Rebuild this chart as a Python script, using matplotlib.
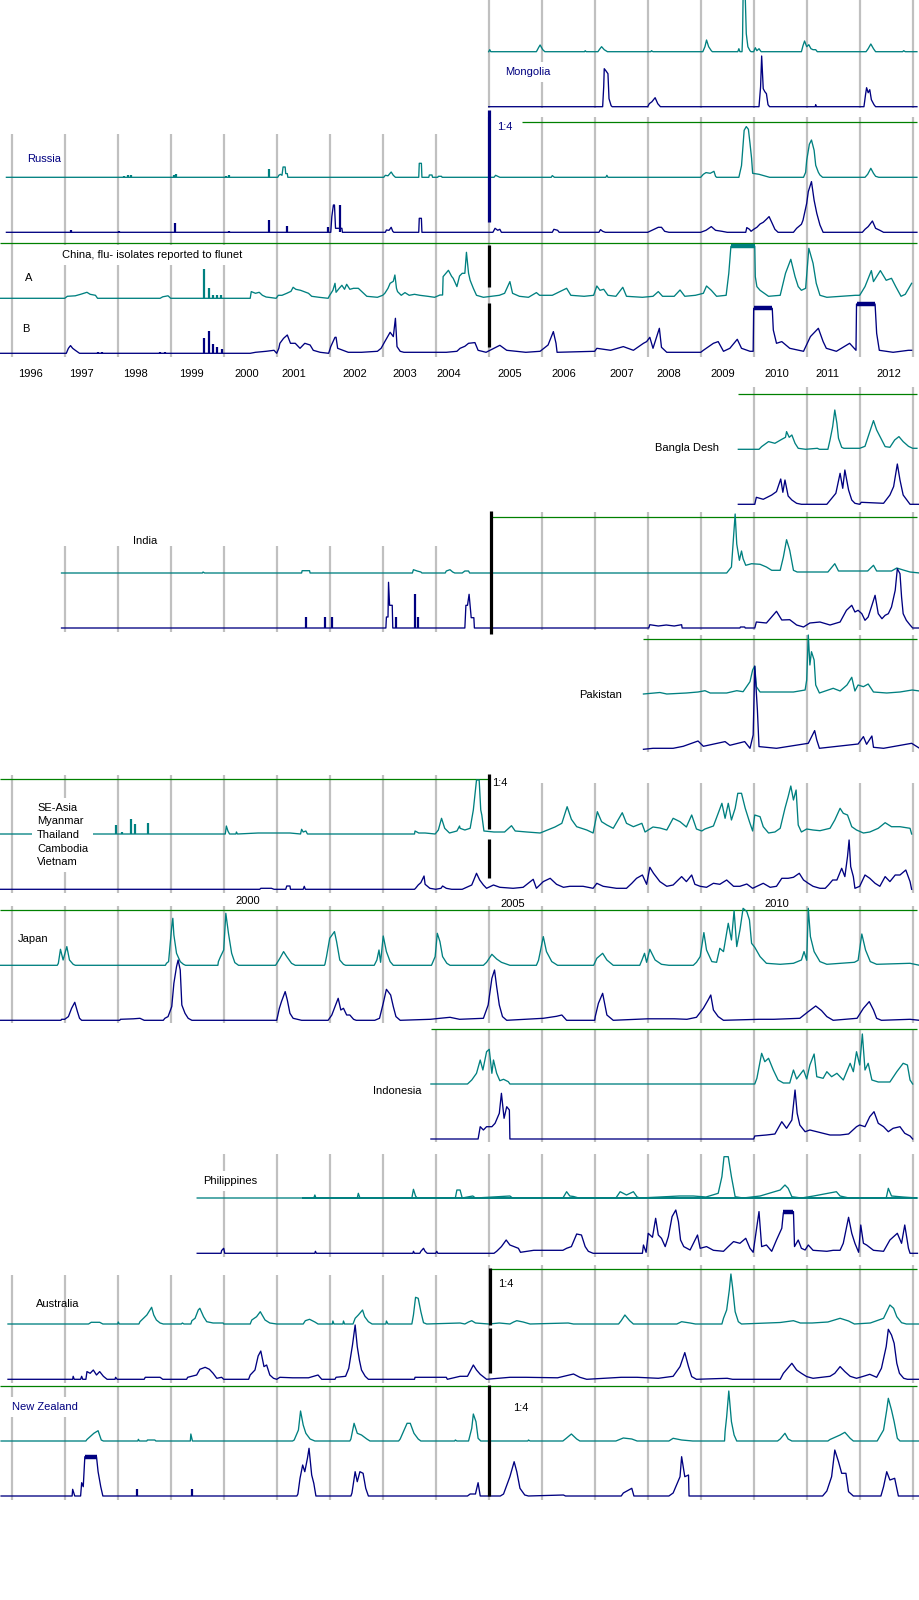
import matplotlib
matplotlib.use("Agg")
import matplotlib.pyplot as plt

# Weekly flu isolates, A (teal) and B (navy).
# Each series: (year, height) vertices; heights in picture units.

MONGOLIA_A = [(2005.0, 0), (2005.02, 2), (2005.04, 0), (2005.9, 0), (2005.94, 4), (2005.97, 6.7),
              (2006.02, 2), (2006.06, 0), (2006.81, 0), (2006.82, 1), (2006.84, 0), (2007.06, 0),
              (2007.1, 3), (2007.13, 5), (2007.18, 2), (2007.24, 0), (2008.06, 0), (2008.07, 1),
              (2008.1, 0), (2009.04, 0), (2009.08, 5), (2009.11, 11.7), (2009.15, 5), (2009.2, 1),
              (2009.22, 0), (2009.7, 0), (2009.72, 3), (2009.74, 0), (2009.78, 0), (2009.79, 15),
              (2009.8, 56), (2009.84, 56), (2009.86, 18), (2009.89, 5), (2009.93, 1), (2009.95, 0),
              (2010.0, 0), (2010.03, 4), (2010.06, 1), (2010.1, 3), (2010.14, 0), (2010.9, 0),
              (2010.93, 6), (2010.96, 10.7), (2011.0, 5), (2011.04, 7), (2011.08, 3), (2011.12, 2),
              (2011.17, 2), (2011.2, 0), (2012.12, 0), (2012.16, 3), (2012.21, 7.7), (2012.26, 3),
              (2012.3, 0), (2012.81, 0), (2012.83, 1), (2012.86, 0), (2013.08, 0)]
MONGOLIA_B = [(2005.0, 0), (2007.15, 0), (2007.17, 20), (2007.18, 38), (2007.21, 36), (2007.25, 33),
              (2007.27, 8), (2007.31, 1), (2007.33, 0), (2008.0, 0), (2008.03, 3), (2008.08, 5),
              (2008.14, 9), (2008.19, 3), (2008.24, 0), (2010.1, 0), (2010.13, 20), (2010.15, 50.7),
              (2010.18, 18), (2010.21, 15), (2010.24, 13), (2010.27, 2), (2010.3, 0), (2011.16, 0),
              (2011.17, 2), (2011.18, 0), (2012.08, 0), (2012.11, 12), (2012.13, 19), (2012.16, 14),
              (2012.19, 17), (2012.22, 7), (2012.27, 2), (2012.3, 0), (2013.08, 0)]

RUSSIA_A = [(1995.9, 0), (2001.02, 0), (2001.04, 2), (2001.07, 3), (2001.1, 2), (2001.12, 10.3),
            (2001.16, 10.3), (2001.17, 3.7), (2001.2, 3.7), (2001.21, 0), (2003.02, 0), (2003.05, 2),
            (2003.1, 1.5), (2003.16, 5.3), (2003.2, 2), (2003.24, 0), (2003.68, 0), (2003.69, 14),
            (2003.73, 14), (2003.74, 0), (2003.87, 0), (2003.88, 2.3), (2003.93, 2.3), (2003.94, 0),
            (2004.04, 0), (2004.05, 1), (2004.11, 1), (2004.12, 0), (2005.1, 0), (2005.13, 2),
            (2005.17, 1), (2005.21, 0), (2006.18, 0), (2006.2, 1.7), (2006.24, 0), (2007.21, 0),
            (2007.23, 2), (2007.25, 0), (2009.0, 0), (2009.05, 3), (2009.1, 4.7), (2009.18, 4),
            (2009.25, 6), (2009.28, 1), (2009.3, 0), (2009.72, 0), (2009.77, 11.7), (2009.82, 47),
            (2009.86, 50.7), (2009.9, 48), (2009.93, 34), (2009.96, 19), (2009.98, 4), (2010.1, 3),
            (2010.2, 1.5), (2010.3, 0), (2010.94, 0), (2010.98, 5), (2011.0, 17), (2011.05, 33),
            (2011.09, 37.3), (2011.14, 27), (2011.17, 12), (2011.22, 5), (2011.25, 2.3), (2011.3, 0),
            (2012.1, 0), (2012.15, 3), (2012.21, 9), (2012.26, 4), (2012.3, 1), (2012.36, 0),
            (2013.08, 0)]
RUSSIA_A_BARS = [(1998.12, 1.5), (1998.19, 2.3), (1998.25, 2.3), (1999.07, 2), (1999.1, 3.3),
                 (2000.05, 1.5), (2000.1, 2.3), (2000.85, 8.3)]
RUSSIA_B = [(1995.9, 0), (2002.02, 0), (2002.04, 15.7), (2002.07, 27.3), (2002.09, 27.3),
            (2002.1, 15.7), (2002.11, 4), (2002.23, 4), (2002.24, 0), (2003.05, 0), (2003.07, 2.3),
            (2003.12, 2), (2003.16, 5), (2003.19, 1), (2003.21, 0), (2003.68, 0), (2003.69, 14),
            (2003.73, 14), (2003.74, 0), (2005.08, 0), (2005.12, 4), (2005.17, 2), (2005.21, 3),
            (2005.24, 0), (2006.2, 0), (2006.23, 3), (2006.3, 2), (2006.33, 0), (2007.08, 0),
            (2007.11, 2.7), (2007.15, 1), (2007.2, 0), (2008.0, 0), (2008.08, 2), (2008.2, 5),
            (2008.26, 5), (2008.32, 1), (2008.4, 0), (2009.0, 0), (2009.1, 2), (2009.2, 5.7),
            (2009.28, 2), (2009.4, 1), (2009.5, 0), (2009.85, 0), (2009.87, 4.7), (2009.92, 3),
            (2009.95, 1), (2010.0, 3), (2010.06, 5), (2010.12, 8.3), (2010.18, 10), (2010.24, 13),
            (2010.29, 15.7), (2010.34, 10), (2010.4, 3), (2010.46, 0), (2010.75, 0), (2010.81, 4),
            (2010.9, 8), (2010.93, 12), (2011.0, 29), (2011.03, 40.7), (2011.09, 50.7),
            (2011.14, 32), (2011.19, 19), (2011.25, 7.3), (2011.31, 0), (2012.05, 0), (2012.1, 3),
            (2012.16, 5.7), (2012.24, 11.3), (2012.3, 4), (2012.38, 2), (2012.45, 0), (2013.08, 0)]
RUSSIA_B_BARS = [(1997.11, 2.3), (1998.03, 1), (1999.08, 9.7), (2000.1, 1.7), (2000.85, 12.3),
                 (2001.19, 6.3), (2001.96, 5.7), (2002.19, 27.3)]

CHINA_A = [(1995.78, 0), (1997.0, 0), (1997.05, 2), (1997.2, 2.5), (1997.3, 4), (1997.42, 6),
           (1997.48, 4), (1997.58, 3), (1997.62, 0), (1998.8, 0), (1998.85, 1.5), (1998.95, 2.5),
           (1999.0, 0), (2000.5, 0), (2000.52, 6.7), (2000.6, 5), (2000.67, 6), (2000.73, 3),
           (2000.8, 1.3), (2000.99, 0), (2001.03, 3), (2001.1, 3), (2001.19, 5), (2001.27, 7),
           (2001.31, 11), (2001.36, 9), (2001.45, 8), (2001.5, 7), (2001.6, 5), (2001.66, 2),
           (2001.8, 1), (2001.97, 0), (2002.0, 3), (2002.06, 8), (2002.1, 15), (2002.12, 6),
           (2002.18, 10), (2002.23, 13), (2002.28, 9), (2002.32, 14), (2002.38, 9), (2002.45, 10),
           (2002.54, 10), (2002.6, 7), (2002.66, 4), (2002.7, 2), (2002.9, 1), (2003.0, 3),
           (2003.04, 5), (2003.1, 10), (2003.14, 15), (2003.2, 17), (2003.23, 23.3), (2003.26, 10),
           (2003.28, 6.7), (2003.35, 3), (2003.42, 5.7), (2003.5, 3), (2003.6, 4), (2003.7, 3),
           (2003.85, 2), (2003.98, 1), (2004.08, 3.3), (2004.13, 3.3), (2004.14, 21.7),
           (2004.24, 28), (2004.3, 22), (2004.33, 20), (2004.4, 11.7), (2004.45, 22.3),
           (2004.5, 25), (2004.55, 25), (2004.58, 46), (2004.62, 25), (2004.65, 18), (2004.71, 10),
           (2004.77, 3), (2004.9, 1), (2005.2, 3), (2005.3, 5), (2005.4, 16.7), (2005.45, 5),
           (2005.58, 2), (2005.75, 1), (2005.9, 5.7), (2005.96, 3), (2006.2, 3), (2006.47, 10),
           (2006.55, 3), (2006.8, 2), (2006.98, 3), (2007.04, 12.3), (2007.1, 8), (2007.17, 9),
           (2007.25, 3), (2007.4, 2), (2007.53, 11), (2007.6, 2), (2007.9, 1), (2008.1, 2),
           (2008.2, 6.7), (2008.28, 2), (2008.5, 2), (2008.61, 8.3), (2008.7, 2), (2008.9, 3),
           (2009.05, 5), (2009.11, 12.3), (2009.2, 8), (2009.3, 2), (2009.48, 3), (2009.53, 25),
           (2009.57, 52), (2010.02, 52), (2010.03, 21.7), (2010.06, 11.7), (2010.12, 8),
           (2010.28, 2), (2010.5, 3), (2010.6, 25), (2010.7, 39), (2010.78, 21.7), (2010.84, 11.7),
           (2010.9, 8), (2010.98, 10), (2011.04, 50), (2011.12, 35), (2011.18, 15), (2011.25, 3),
           (2011.38, 1), (2011.92, 3), (2012.0, 3), (2012.1, 11.7), (2012.22, 27.7),
           (2012.26, 16.7), (2012.39, 27.7), (2012.5, 18), (2012.6, 20), (2012.68, 11.7),
           (2012.78, 2), (2012.86, 4), (2012.98, 15)]
CHINA_A_BARS = [(1999.63, 29.3), (1999.73, 10), (1999.8, 3), (1999.87, 3), (1999.95, 3)]
CHINA_A_BANDS = [(2009.57, 2010.02, 52)]
CHINA_B = [(1995.78, 0), (1997.03, 0), (1997.07, 5), (1997.11, 7.7), (1997.15, 5), (1997.2, 3),
           (1997.28, 0), (2000.5, 0), (2000.6, 1), (2000.8, 2), (2000.95, 3), (2001.0, 0),
           (2001.04, 5), (2001.06, 10), (2001.13, 15), (2001.2, 18.3), (2001.26, 10),
           (2001.35, 10), (2001.44, 5), (2001.53, 10), (2001.63, 8.3), (2001.69, 3), (2001.82, 1),
           (2001.98, 0), (2002.02, 6.7), (2002.1, 16), (2002.12, 16), (2002.15, 5), (2002.25, 3),
           (2002.35, 1), (2002.6, 1), (2002.9, 2), (2002.97, 5), (2003.04, 11.7), (2003.14, 21),
           (2003.2, 16.7), (2003.24, 35), (2003.27, 6.7), (2003.33, 2), (2003.4, 1), (2004.2, 1),
           (2004.4, 2), (2004.46, 5), (2004.55, 7), (2004.62, 10), (2004.74, 10.7), (2004.8, 3),
           (2004.95, 1), (2005.21, 8), (2005.34, 3), (2005.7, 1), (2005.97, 2), (2006.12, 8.3),
           (2006.22, 21.7), (2006.27, 10), (2006.29, 1), (2007.0, 2), (2007.04, 5), (2007.3, 3),
           (2007.54, 6.7), (2007.73, 3), (2007.92, 10), (2007.98, 11.7), (2008.04, 16),
           (2008.1, 5), (2008.22, 25), (2008.26, 6), (2008.36, 1), (2009.0, 1), (2009.05, 3),
           (2009.24, 10), (2009.33, 11.7), (2009.43, 2), (2009.55, 5), (2009.69, 14), (2009.77, 5),
           (2009.93, 2), (2009.99, 2), (2010.0, 45), (2010.35, 45), (2010.37, 23.3), (2010.43, 10),
           (2010.53, 11.7), (2010.68, 5), (2010.94, 2), (2011.07, 16.7), (2011.22, 25),
           (2011.31, 11.7), (2011.37, 5), (2011.56, 2), (2011.81, 10), (2011.93, 3),
           (2011.94, 49.3), (2012.29, 49.3), (2012.32, 20), (2012.37, 3), (2012.63, 1),
           (2012.92, 3), (2012.98, 3)]
CHINA_B_BARS = [(1997.62, 1), (1997.7, 1.5), (1998.8, 1), (1998.9, 1), (1999.63, 15),
                (1999.73, 22.3), (1999.8, 9.3), (1999.88, 6), (1999.96, 4)]
CHINA_B_BANDS = [(2010.0, 2010.35, 45), (2011.94, 2012.29, 49.3)]

BANGLA_A = [(2009.71, 0), (2010.1, 0), (2010.15, 2.7), (2010.28, 7.7), (2010.4, 6), (2010.53, 10),
            (2010.6, 12), (2010.62, 17.7), (2010.67, 12), (2010.72, 14.3), (2010.78, 6),
            (2010.84, 1), (2010.98, 0), (2011.2, 1), (2011.24, 0), (2011.4, 0), (2011.44, 9.3),
            (2011.49, 22.7), (2011.53, 39.3), (2011.57, 26), (2011.6, 11), (2011.66, 2), (2011.7, 1),
            (2012.0, 1), (2012.1, 3), (2012.16, 12.7), (2012.26, 28.7), (2012.32, 19.3),
            (2012.4, 11), (2012.48, 2.7), (2012.57, 2), (2012.66, 9.3), (2012.74, 12.7),
            (2012.82, 7.7), (2012.92, 3), (2013.0, 1), (2013.08, 1)]
BANGLA_B = [(2009.71, 0), (2010.02, 0), (2010.05, 7), (2010.18, 5), (2010.34, 9.3), (2010.43, 12.7),
            (2010.51, 25.3), (2010.55, 12), (2010.59, 24.3), (2010.65, 8.3), (2010.72, 4.3),
            (2010.81, 1), (2010.9, 0), (2011.38, 0), (2011.55, 11), (2011.63, 31), (2011.68, 16),
            (2011.72, 34.3), (2011.79, 14.3), (2011.85, 4.3), (2011.91, 1), (2012.0, 0),
            (2012.03, 2), (2012.45, 1), (2012.57, 9.3), (2012.64, 17.7), (2012.71, 40.3),
            (2012.76, 24.3), (2012.82, 9.3), (2012.88, 5), (2012.95, 0), (2013.12, 0)]

INDIA_A = [(1996.94, 0), (1999.6, 0), (1999.61, 1), (1999.64, 0), (2001.47, 0), (2001.48, 2.3),
           (2001.62, 2.3), (2001.63, 0), (2003.56, 0), (2003.58, 3.3), (2003.65, 2), (2003.72, 1),
           (2003.74, 0), (2004.18, 0), (2004.2, 2), (2004.27, 3.3), (2004.32, 1), (2004.36, 0),
           (2004.5, 0), (2004.55, 2), (2004.62, 2), (2004.64, 0), (2009.49, 0), (2009.58, 6),
           (2009.65, 59), (2009.68, 29), (2009.73, 12.7), (2009.77, 22), (2009.8, 14.3),
           (2009.85, 7.7), (2009.96, 9.3), (2010.12, 8.7), (2010.24, 6), (2010.34, 2.7),
           (2010.5, 2.7), (2010.56, 16), (2010.62, 33.3), (2010.68, 22.7), (2010.75, 2.7),
           (2010.82, 1), (2011.4, 1), (2011.53, 9.3), (2011.6, 2), (2012.15, 2), (2012.26, 7.7),
           (2012.32, 2), (2012.6, 2), (2012.7, 5), (2012.82, 3), (2012.95, 1), (2013.13, 0)]
INDIA_B = [(1996.94, 0), (2003.06, 0), (2003.07, 11), (2003.1, 11), (2003.11, 45.7),
           (2003.13, 22.7), (2003.18, 22.7), (2003.19, 0), (2004.55, 0), (2004.57, 22.7),
           (2004.6, 22.7), (2004.63, 33.7), (2004.67, 10.3), (2004.72, 10.3), (2004.73, 0),
           (2008.02, 0), (2008.04, 3.3), (2008.2, 2), (2008.35, 3), (2008.5, 2), (2008.64, 3.3),
           (2008.65, 0), (2009.74, 0), (2009.75, 1), (2009.83, 1), (2009.84, 0), (2010.02, 0),
           (2010.05, 6), (2010.24, 5), (2010.43, 16.7), (2010.53, 8), (2010.68, 8.3), (2010.81, 3),
           (2010.94, 1), (2011.06, 5), (2011.25, 6), (2011.44, 3), (2011.63, 6), (2011.75, 17.7),
           (2011.85, 22.7), (2011.91, 16), (2011.97, 17.7), (2012.04, 14.3), (2012.1, 7.7),
           (2012.16, 11), (2012.24, 24.3), (2012.29, 32.7), (2012.35, 14.3), (2012.42, 9.3),
           (2012.48, 12.7), (2012.54, 14.3), (2012.6, 21), (2012.67, 37.7), (2012.71, 59.3),
           (2012.76, 54.3), (2012.79, 31), (2012.82, 14.3), (2012.88, 7.7), (2012.95, 3),
           (2013.0, 0), (2013.13, 0)]
INDIA_B_BARS = [(2001.55, 11), (2001.92, 11), (2002.04, 11), (2003.26, 11), (2003.6, 34.3),
                (2003.67, 11)]

PAKISTAN_A = [(2007.92, 0), (2008.23, 1.5), (2008.36, 0), (2008.73, 1), (2008.95, 2), (2009.08, 3.3),
              (2009.18, 1), (2009.49, 1), (2009.68, 3.3), (2009.8, 2.3), (2009.93, 12.3),
              (2009.98, 24), (2010.02, 28), (2010.05, 7.3), (2010.12, 2), (2010.75, 2),
              (2010.97, 4), (2011.0, 14), (2011.03, 59), (2011.06, 29), (2011.09, 42.3),
              (2011.14, 34), (2011.17, 9), (2011.24, 1), (2011.5, 5.7), (2011.63, 3), (2011.76, 9),
              (2011.85, 16.7), (2011.91, 3), (2011.97, 9), (2012.07, 7.3), (2012.16, 10),
              (2012.26, 2), (2012.51, 1), (2012.76, 2), (2012.99, 4), (2013.13, 3)]
PAKISTAN_B = [(2007.92, 0), (2008.1, 1), (2008.48, 1), (2008.67, 3), (2008.95, 8.3), (2009.05, 3),
              (2009.46, 7.7), (2009.55, 4), (2009.83, 7.7), (2009.93, 1), (2009.99, 14.3),
              (2010.02, 83), (2010.07, 39), (2010.1, 2.7), (2010.43, 1), (2011.03, 6),
              (2011.15, 18.7), (2011.19, 9.3), (2011.24, 1), (2011.97, 5.3), (2012.07, 12.7),
              (2012.13, 5), (2012.23, 13.3), (2012.26, 2), (2012.45, 1), (2012.98, 6), (2013.13, 1)]

SEASIA_A = [(1995.78, 0), (2000.03, 0), (2000.05, 8), (2000.08, 3), (2000.11, 0), (2000.23, 0),
            (2000.24, 2), (2000.26, 0), (2000.65, 1), (2001.06, 1), (2001.25, 1), (2001.45, 0),
            (2001.47, 4.7), (2001.5, 2), (2001.55, 3), (2001.58, 0), (2003.6, 0), (2003.61, 3),
            (2003.68, 1), (2003.8, 1), (2003.99, 0), (2004.05, 4), (2004.11, 15.7), (2004.17, 5.7),
            (2004.26, 1), (2004.4, 3), (2004.45, 8), (2004.46, 5.7), (2004.55, 4), (2004.65, 5.7),
            (2004.71, 24), (2004.77, 54), (2004.82, 54), (2004.85, 24), (2004.87, 19), (2004.91, 3),
            (2005.1, 2), (2005.3, 2), (2005.43, 8.3), (2005.5, 3), (2005.72, 2), (2005.97, 1),
            (2006.25, 7), (2006.38, 10.7), (2006.48, 27.3), (2006.56, 14.7), (2006.66, 7.3),
            (2006.85, 4), (2006.97, 1), (2007.05, 22.3), (2007.13, 12.3), (2007.23, 9),
            (2007.35, 5.7), (2007.52, 21.3), (2007.6, 10.7), (2007.73, 7.3), (2007.89, 10.7),
            (2007.95, 2), (2008.1, 7), (2008.23, 6), (2008.36, 4), (2008.48, 15.7), (2008.61, 12.3),
            (2008.73, 7), (2008.83, 19), (2008.92, 5), (2009.02, 3), (2009.08, 5), (2009.24, 8),
            (2009.33, 20.7), (2009.4, 30.7), (2009.46, 15.7), (2009.52, 30.7), (2009.58, 14),
            (2009.65, 25.7), (2009.7, 40.7), (2009.77, 40.7), (2009.84, 25.7), (2009.92, 12.3),
            (2009.98, 3), (2010.02, 19), (2010.12, 17.3), (2010.18, 7.3), (2010.28, 1), (2010.4, 2),
            (2010.5, 5.7), (2010.59, 25.7), (2010.65, 37.3), (2010.7, 48), (2010.75, 34),
            (2010.8, 44), (2010.84, 9), (2010.9, 2), (2011.0, 5), (2011.12, 4), (2011.25, 3.3),
            (2011.44, 5.7), (2011.53, 14), (2011.63, 25.7), (2011.69, 20.7), (2011.77, 19),
            (2011.85, 7.3), (2011.94, 4), (2012.07, 1), (2012.19, 2), (2012.35, 5.7),
            (2012.48, 11.3), (2012.6, 7.3), (2012.76, 7.3), (2012.95, 5.7), (2012.98, 0)]
SEASIA_A_BARS = [(1997.97, 9), (1998.08, 2), (1998.25, 14.7), (1998.33, 10), (1998.57, 10.7)]
SEASIA_B = [(1995.78, 0), (2000.68, 0), (2000.7, 1), (2000.9, 1), (2000.95, 0), (2001.17, 0),
            (2001.19, 3.3), (2001.25, 3.3), (2001.26, 0), (2001.5, 0), (2001.52, 3), (2001.54, 0),
            (2003.6, 0), (2003.62, 1), (2003.67, 4.3), (2003.72, 6.7), (2003.78, 13.3), (2003.8, 5),
            (2003.89, 1), (2004.0, 0), (2004.1, 1), (2004.13, 3.3), (2004.2, 1), (2004.3, 0),
            (2004.5, 0), (2004.68, 4.3), (2004.77, 16), (2004.83, 9.3), (2004.9, 4.3), (2004.96, 1),
            (2005.09, 4.3), (2005.21, 2), (2005.46, 1), (2005.65, 2), (2005.84, 10), (2005.9, 1),
            (2006.03, 7.7), (2006.16, 11), (2006.28, 5), (2006.41, 2), (2006.53, 3), (2006.78, 3),
            (2006.97, 1), (2007.04, 6), (2007.16, 3), (2007.41, 1), (2007.6, 1), (2007.7, 6),
            (2007.79, 11), (2007.9, 14.3), (2007.98, 5), (2008.04, 22), (2008.11, 16),
            (2008.23, 7.7), (2008.36, 3), (2008.48, 4.3), (2008.64, 12.7), (2008.73, 7.7),
            (2008.83, 14.3), (2008.89, 5), (2008.99, 3), (2009.11, 2), (2009.24, 6), (2009.36, 5),
            (2009.49, 9.3), (2009.62, 3), (2009.74, 3), (2009.87, 5.3), (2009.98, 1), (2010.06, 3),
            (2010.18, 6), (2010.31, 2), (2010.43, 3), (2010.53, 11), (2010.65, 11), (2010.75, 12),
            (2010.86, 16), (2010.94, 9.3), (2011.03, 6), (2011.12, 3), (2011.25, 1), (2011.35, 1),
            (2011.41, 4.3), (2011.49, 9.3), (2011.57, 9.3), (2011.66, 21), (2011.72, 12.7),
            (2011.77, 32.7), (2011.8, 49.3), (2011.83, 22.7), (2011.88, 12.7), (2011.91, 1),
            (2012.0, 3), (2012.1, 14.3), (2012.19, 11), (2012.29, 6), (2012.38, 3), (2012.48, 12.7),
            (2012.57, 7.7), (2012.67, 14.3), (2012.76, 14.3), (2012.87, 19.3), (2012.95, 7.7),
            (2012.98, 0)]

JAPAN_A = [(1995.78, 0), (1996.86, 0), (1996.88, 2), (1996.92, 16), (1996.97, 5.3), (1997.04, 18.7),
           (1997.09, 5.3), (1997.16, 1), (1997.2, 0), (1998.9, 0), (1998.92, 2), (1998.96, 3.7),
           (1999.02, 38.7), (1999.04, 47), (1999.06, 30.3), (1999.11, 12), (1999.18, 3.7),
           (1999.24, 1), (1999.28, 0), (1999.89, 0), (1999.9, 3.7), (1999.94, 8.7), (2000.0, 15.3),
           (2000.04, 52), (2000.09, 32), (2000.15, 12), (2000.21, 2.7), (2000.28, 0), (2000.98, 0),
           (2001.06, 7), (2001.13, 13.7), (2001.19, 8.7), (2001.28, 2), (2001.35, 0), (2001.9, 0),
           (2001.91, 1), (2001.94, 8.7), (2002.0, 27), (2002.09, 33.7), (2002.13, 23.7),
           (2002.19, 5.3), (2002.26, 1), (2002.3, 0), (2002.84, 0), (2002.89, 5.3), (2002.93, 15.3),
           (2002.96, 3), (2003.01, 29.3), (2003.07, 13.7), (2003.14, 3.7), (2003.2, 0),
           (2003.92, 0), (2003.99, 8.7), (2004.03, 32), (2004.08, 23.7), (2004.13, 8.7),
           (2004.21, 2), (2004.27, 0), (2004.9, 0), (2004.96, 3), (2005.06, 11), (2005.15, 6.3),
           (2005.24, 3), (2005.4, 0), (2005.9, 0), (2005.94, 5), (2006.03, 28.7), (2006.09, 13.7),
           (2006.19, 3.7), (2006.3, 0), (2006.98, 0), (2007.04, 7), (2007.15, 12), (2007.23, 5.3),
           (2007.35, 0), (2007.85, 0), (2007.89, 5), (2007.94, 12), (2007.98, 3), (2008.04, 16),
           (2008.14, 5.3), (2008.26, 1), (2008.4, 0), (2008.86, 0), (2008.92, 3), (2008.99, 8.7),
           (2009.06, 32.7), (2009.11, 15.3), (2009.21, 3.7), (2009.3, 3), (2009.36, 17),
           (2009.43, 13.7), (2009.52, 42), (2009.58, 25.3), (2009.63, 54.7), (2009.68, 18.7),
           (2009.74, 35.3), (2009.8, 57), (2009.87, 53.7), (2009.92, 45.3), (2009.96, 22),
           (2010.02, 18), (2010.12, 8.7), (2010.24, 2), (2010.5, 1), (2010.75, 2), (2010.9, 5.3),
           (2010.95, 13.7), (2011.0, 5), (2011.03, 57), (2011.07, 28.7), (2011.14, 13.7),
           (2011.25, 3.7), (2011.38, 1), (2011.9, 3), (2011.97, 5), (2012.04, 31.3),
           (2012.11, 15.3), (2012.2, 3.7), (2012.32, 1), (2012.95, 2), (2013.13, 0)]
JAPAN_B = [(1995.78, 0), (1996.93, 0), (1996.94, 1), (1997.0, 1), (1997.07, 3.7), (1997.13, 12),
           (1997.19, 18), (1997.24, 8.7), (1997.28, 2), (1997.32, 0), (1998.04, 0), (1998.05, 1),
           (1998.3, 1.5), (1998.42, 2), (1998.5, 0), (1998.86, 0), (1998.89, 2), (1998.95, 3.7),
           (1999.02, 13.7), (1999.06, 37), (1999.11, 53.7), (1999.14, 60.3), (1999.18, 50.3),
           (1999.21, 15.3), (1999.27, 7), (1999.33, 2), (1999.4, 0), (2001.0, 0), (2001.05, 12),
           (2001.09, 18.7), (2001.16, 28.7), (2001.2, 20.3), (2001.25, 7), (2001.31, 2),
           (2001.47, 0), (2001.97, 0), (2002.04, 5.3), (2002.1, 13.7), (2002.16, 22),
           (2002.21, 10.3), (2002.26, 12), (2002.32, 5.3), (2002.38, 5.3), (2002.45, 1),
           (2002.5, 0), (2002.85, 0), (2002.94, 2), (2003.01, 17), (2003.07, 31), (2003.15, 25.3),
           (2003.2, 13.7), (2003.25, 3.7), (2003.33, 0), (2003.9, 1), (2004.08, 2), (2004.27, 3),
           (2004.45, 1), (2004.9, 2), (2004.99, 15.3), (2005.06, 42), (2005.11, 50.3),
           (2005.15, 33.7), (2005.2, 15.3), (2005.26, 3.7), (2005.34, 0), (2006.03, 2),
           (2006.28, 4), (2006.38, 5.3), (2006.47, 0), (2007.0, 0), (2007.01, 3.7), (2007.07, 17),
           (2007.15, 27), (2007.23, 5.3), (2007.35, 0), (2008.0, 1.5), (2008.5, 1.5), (2008.74, 1),
           (2008.92, 3), (2009.05, 12), (2009.14, 20.3), (2009.19, 25.3), (2009.24, 10.3),
           (2009.33, 3.7), (2009.43, 0), (2010.1, 1), (2010.38, 1), (2010.87, 2), (2011.03, 8.7),
           (2011.17, 14.3), (2011.28, 9.7), (2011.38, 3.7), (2011.5, 0), (2011.95, 2),
           (2012.07, 12), (2012.18, 18.7), (2012.26, 10.3), (2012.32, 2), (2012.41, 0),
           (2012.95, 1), (2013.13, 0)]

INDONESIA_A = [(2003.91, 0), (2004.6, 0), (2004.68, 4), (2004.77, 10.7), (2004.84, 24), (2004.89, 14),
               (2004.96, 32.3), (2005.01, 34.7), (2005.06, 10.7), (2005.09, 24), (2005.15, 10.7),
               (2005.21, 3.3), (2005.28, 4.7), (2005.37, 2.3), (2005.4, 0), (2010.02, 0),
               (2010.06, 5.7), (2010.15, 30.7), (2010.21, 22.3), (2010.28, 25.7), (2010.37, 14),
               (2010.46, 4), (2010.56, 1), (2010.68, 1), (2010.75, 14), (2010.81, 5), (2010.94, 14),
               (2011.0, 5), (2011.06, 19), (2011.14, 30), (2011.19, 7.3), (2011.31, 5.7),
               (2011.38, 12.3), (2011.47, 7.3), (2011.57, 10.7), (2011.69, 4), (2011.82, 20.7),
               (2011.88, 12.3), (2011.94, 32.3), (2012.0, 19), (2012.05, 50), (2012.1, 14),
               (2012.16, 20.7), (2012.23, 4), (2012.35, 2), (2012.57, 2), (2012.7, 12.3),
               (2012.82, 20.7), (2012.9, 19), (2012.95, 4), (2013.0, 0)]
INDONESIA_B = [(2003.91, 0), (2004.8, 0), (2004.84, 12.3), (2004.9, 9), (2004.96, 12.3),
               (2005.06, 12.3), (2005.12, 15.7), (2005.2, 25.7), (2005.24, 45.7), (2005.29, 20.7),
               (2005.34, 32.3), (2005.39, 29), (2005.4, 0), (2010.0, 0), (2010.02, 3), (2010.24, 4),
               (2010.4, 5), (2010.53, 17.3), (2010.62, 10.7), (2010.72, 19), (2010.78, 49),
               (2010.82, 25.7), (2010.87, 14), (2010.97, 7.3), (2011.06, 9), (2011.19, 7.3),
               (2011.31, 5.7), (2011.44, 4), (2011.63, 4), (2011.79, 5), (2011.94, 12.3),
               (2012.0, 14), (2012.1, 12.3), (2012.19, 22.3), (2012.27, 27.3), (2012.35, 15.7),
               (2012.45, 12.3), (2012.54, 7.3), (2012.63, 10.7), (2012.76, 12.3), (2012.85, 5.7),
               (2012.95, 3), (2013.0, 0)]

PHILIPPINES_A = [(1999.5, 0), (2001.7, 0), (2001.72, 3), (2001.74, 0), (2002.52, 0), (2002.54, 4.7),
                 (2002.57, 0), (2003.55, 0), (2003.58, 8.7), (2003.62, 2), (2003.65, 0),
                 (2004.37, 0), (2004.4, 8), (2004.46, 8), (2004.49, 2), (2004.5, 0), (2004.7, 2),
                 (2004.75, 0), (2005.4, 2), (2005.45, 0), (2006.4, 0), (2006.47, 6.3),
                 (2006.53, 2), (2006.6, 1.5), (2006.7, 0), (2007.4, 0), (2007.48, 6.3), (2007.6, 3),
                 (2007.73, 6.3), (2007.8, 1), (2007.85, 0), (2008.6, 2), (2008.86, 2), (2009.1, 1),
                 (2009.33, 4.7), (2009.4, 21.3), (2009.44, 41.3), (2009.52, 41.3), (2009.58, 21.3),
                 (2009.65, 1.3), (2009.8, 0), (2010.12, 2), (2010.5, 8), (2010.59, 13),
                 (2010.65, 9.7), (2010.72, 1.3), (2010.9, 0), (2011.13, 2), (2011.56, 6.3),
                 (2011.63, 2), (2011.8, 0), (2012.5, 0), (2012.54, 9.7), (2012.6, 2), (2012.82, 1),
                 (2013.09, 0)]
PHILIPPINES_A_BANDS = [(2001.47, 2013.09, 0.5)]
PHILIPPINES_B = [(1999.5, 0), (1999.95, 0), (1999.96, 2.7), (2000.0, 5), (2000.02, 0), (2001.72, 0),
                 (2001.73, 2), (2001.75, 0), (2003.57, 0), (2003.58, 2), (2003.6, 0), (2003.7, 0),
                 (2003.72, 2), (2003.77, 5), (2003.8, 2), (2003.84, 0), (2004.0, 0), (2004.02, 2),
                 (2004.04, 0), (2005.1, 0), (2005.15, 2), (2005.24, 6.7), (2005.33, 13.3),
                 (2005.4, 8.3), (2005.56, 5), (2005.6, 1), (2005.85, 3), (2006.4, 3), (2006.47, 5),
                 (2006.56, 6.7), (2006.66, 19.3), (2006.75, 18.3), (2006.82, 6.7), (2006.88, 2),
                 (2006.97, 0), (2007.9, 0), (2007.92, 8.3), (2007.97, 1), (2008.01, 20),
                 (2008.09, 16), (2008.15, 35), (2008.2, 18.3), (2008.26, 15), (2008.33, 6.7),
                 (2008.39, 16.7), (2008.46, 36.7), (2008.53, 43.3), (2008.58, 31.7), (2008.62, 13.3),
                 (2008.68, 6.7), (2008.8, 3.3), (2008.94, 18.3), (2008.99, 5), (2009.11, 6.7),
                 (2009.24, 3), (2009.43, 2), (2009.52, 6.7), (2009.62, 11.7), (2009.74, 10),
                 (2009.85, 15), (2009.93, 5), (2009.99, 1), (2010.1, 41.7), (2010.15, 6.7),
                 (2010.24, 8.3), (2010.34, 2), (2010.43, 13.3), (2010.53, 25), (2010.56, 40.7),
                 (2010.75, 41.7), (2010.77, 6.7), (2010.84, 13.3), (2010.9, 5), (2010.97, 3.3),
                 (2011.03, 8.3), (2011.12, 3), (2011.38, 2), (2011.5, 3), (2011.63, 3),
                 (2011.69, 10), (2011.79, 36), (2011.85, 20), (2011.91, 10), (2011.98, 1),
                 (2012.02, 28.3), (2012.07, 10), (2012.13, 8.3), (2012.26, 3), (2012.45, 2),
                 (2012.57, 13.3), (2012.71, 20), (2012.79, 10), (2012.85, 28.3), (2012.92, 5),
                 (2012.95, 0), (2013.09, 0)]
PHILIPPINES_B_BANDS = [(2010.56, 2010.75, 41.7)]

AUSTRALIA_A = [(1995.93, 0), (1997.45, 0), (1997.5, 1.7), (1997.66, 1.7), (1997.72, 0), (1998.0, 0),
               (1998.01, 2), (1998.03, 0), (1998.4, 0), (1998.42, 2.3), (1998.55, 9),
               (1998.64, 16.7), (1998.68, 9), (1998.73, 4), (1998.8, 1), (1998.86, 0), (1999.2, 0),
               (1999.22, 1), (1999.25, 0), (1999.38, 0), (1999.4, 3.3), (1999.46, 5.7),
               (1999.52, 14), (1999.55, 15.7), (1999.62, 7.3), (1999.68, 2.3), (1999.8, 1),
               (1999.99, 1), (2000.0, 0), (2000.5, 0), (2000.53, 4), (2000.62, 7.3), (2000.69, 12.3),
               (2000.78, 4), (2000.87, 1), (2001.0, 0), (2001.5, 0), (2001.54, 3.3), (2001.62, 4.7),
               (2001.72, 2), (2001.78, 0), (2002.05, 0), (2002.06, 3), (2002.08, 0), (2002.25, 0),
               (2002.26, 3), (2002.28, 0), (2002.44, 0), (2002.48, 5.7), (2002.54, 9), (2002.62, 14),
               (2002.66, 7.3), (2002.73, 2.3), (2002.8, 0), (2003.06, 0), (2003.07, 3), (2003.1, 0),
               (2003.55, 0), (2003.58, 9), (2003.62, 26.7), (2003.67, 25.7), (2003.72, 12.3),
               (2003.77, 1.3), (2003.83, 0), (2004.46, 1), (2004.55, 0), (2004.62, 2),
               (2004.68, 3.3), (2004.75, 1), (2005.0, 0), (2005.2, 1), (2005.4, 0), (2005.47, 2),
               (2005.53, 3.3), (2005.65, 2), (2005.78, 0), (2006.5, 1), (2006.6, 0), (2007.45, 0),
               (2007.5, 3.3), (2007.57, 9), (2007.66, 3.3), (2007.73, 0), (2008.55, 0),
               (2008.64, 2.3), (2008.8, 1), (2008.9, 0), (2009.4, 0), (2009.43, 5.7), (2009.49, 14),
               (2009.54, 34), (2009.57, 50), (2009.6, 37.3), (2009.65, 12.3), (2009.71, 2.3),
               (2009.77, 0), (2010.5, 1.5), (2010.75, 3.3), (2010.88, 1), (2011.1, 1), (2011.4, 2),
               (2011.63, 5.7), (2011.79, 3), (2011.9, 0), (2012.2, 1), (2012.45, 5.7), (2012.57, 19),
               (2012.64, 15.7), (2012.7, 7.3), (2012.79, 1.3), (2012.88, 0), (2013.13, 0)]
AUSTRALIA_B = [(1995.93, 0), (1997.15, 0), (1997.16, 3), (1997.18, 0), (1997.3, 0), (1997.32, 3),
               (1997.34, 0), (1997.4, 0), (1997.42, 7.7), (1997.48, 6), (1997.54, 9.3), (1997.6, 4.3),
               (1997.66, 7.7), (1997.73, 3), (1997.8, 0), (1997.95, 0), (1997.96, 2), (1997.99, 0),
               (1998.5, 0), (1998.52, 2), (1998.8, 2), (1998.85, 0), (1999.3, 0), (1999.32, 2),
               (1999.49, 4.3), (1999.55, 10), (1999.65, 12), (1999.73, 10), (1999.8, 6),
               (1999.87, 1), (1999.96, 2), (2000.0, 0), (2000.47, 0), (2000.5, 4.3), (2000.59, 9.3),
               (2000.65, 23.3), (2000.7, 28.3), (2000.76, 12.7), (2000.81, 14.3), (2000.87, 4.3),
               (2000.94, 1), (2001.0, 0), (2001.06, 2), (2001.3, 1.5), (2001.6, 1.5),
               (2001.78, 4.3), (2001.85, 0), (2002.1, 0), (2002.12, 2), (2002.3, 3), (2002.36, 11),
               (2002.43, 34.3), (2002.48, 54.3), (2002.52, 32.7), (2002.56, 19.3), (2002.6, 9.3),
               (2002.67, 3), (2002.73, 0), (2003.6, 0), (2003.61, 2), (2003.8, 2), (2004.2, 2),
               (2004.22, 0), (2004.46, 3), (2004.6, 3), (2004.71, 14.3), (2004.77, 9.3),
               (2004.84, 5), (2004.96, 0), (2005.4, 2), (2005.7, 2), (2006.3, 1.5), (2006.6, 5.3),
               (2006.72, 2), (2006.85, 0), (2007.5, 2), (2007.8, 2), (2008.2, 1), (2008.48, 3),
               (2008.61, 12.7), (2008.7, 26.7), (2008.77, 12.7), (2008.83, 2.7), (2008.92, 0),
               (2009.5, 1), (2009.6, 0), (2010.5, 0), (2010.56, 6), (2010.72, 16), (2010.81, 9.3),
               (2010.9, 6), (2011.0, 2.7), (2011.12, 1), (2011.44, 3), (2011.53, 6), (2011.63, 12.7),
               (2011.72, 7.7), (2011.82, 3), (2011.94, 1), (2012.07, 3), (2012.19, 5), (2012.32, 2),
               (2012.41, 11), (2012.5, 32.7), (2012.54, 50), (2012.6, 44.3), (2012.65, 36),
               (2012.7, 16), (2012.75, 6), (2012.83, 1), (2012.9, 0), (2013.13, 0)]

NZ_A = [(1995.8, 0), (1997.4, 0), (1997.42, 1.5), (1997.55, 7.7), (1997.63, 10.3), (1997.69, 1),
        (1997.73, 0), (1998.38, 0), (1998.39, 1.7), (1998.41, 0), (1998.55, 0), (1998.56, 1),
        (1998.7, 1), (1998.72, 0), (1999.37, 0), (1999.38, 7), (1999.41, 0), (2001.3, 0),
        (2001.33, 1), (2001.41, 11), (2001.45, 30), (2001.5, 16), (2001.55, 7.7), (2001.63, 2),
        (2001.72, 0), (2002.38, 0), (2002.4, 2), (2002.46, 17.7), (2002.52, 7.7), (2002.6, 6),
        (2002.7, 2), (2002.76, 0), (2003.3, 0), (2003.33, 2), (2003.46, 17.7), (2003.52, 17.7),
        (2003.59, 7.7), (2003.67, 2), (2003.72, 0), (2004.36, 0), (2004.37, 1), (2004.4, 0),
        (2004.62, 0), (2004.68, 12.7), (2004.71, 27), (2004.76, 19.3), (2004.8, 2.7), (2004.85, 0),
        (2005.74, 0), (2005.75, 1), (2005.78, 0), (2006.4, 0), (2006.47, 3), (2006.56, 7),
        (2006.66, 2), (2006.72, 0), (2007.4, 0), (2007.54, 3), (2007.7, 2), (2007.8, 0),
        (2008.4, 0), (2008.48, 2.7), (2008.64, 1), (2008.85, 0), (2009.45, 0), (2009.46, 9.3),
        (2009.49, 24.3), (2009.53, 50), (2009.58, 19.3), (2009.63, 6), (2009.68, 0), (2010.45, 0),
        (2010.5, 2), (2010.59, 7.7), (2010.65, 2), (2010.72, 0), (2011.4, 0), (2011.44, 1.5),
        (2011.63, 6), (2011.72, 8.7), (2011.82, 2.7), (2011.88, 0), (2012.33, 0), (2012.45, 11),
        (2012.51, 31), (2012.54, 42.7), (2012.6, 31), (2012.65, 19.3), (2012.71, 2.7),
        (2012.76, 0), (2013.13, 0)]
NZ_B = [(1995.8, 0), (1997.14, 0), (1997.15, 6.7), (1997.19, 0), (1997.3, 0), (1997.32, 13.3),
        (1997.35, 9.3), (1997.38, 39.3), (1997.6, 39.3), (1997.63, 24.3), (1997.68, 9.3),
        (1997.72, 0), (2001.38, 0), (2001.4, 2), (2001.44, 17.7), (2001.49, 31), (2001.53, 24.3),
        (2001.58, 37.7), (2001.61, 47.7), (2001.66, 21), (2001.7, 12.7), (2001.74, 0),
        (2002.4, 0), (2002.42, 3), (2002.48, 24.3), (2002.52, 14.3), (2002.57, 24.3),
        (2002.63, 22.7), (2002.68, 7.7), (2002.73, 0), (2004.6, 0), (2004.65, 2), (2004.75, 2),
        (2004.8, 13.3), (2004.84, 0), (2005.22, 0), (2005.28, 2), (2005.4, 19.3), (2005.48, 34.3),
        (2005.53, 24.3), (2005.59, 7.7), (2005.68, 1), (2005.75, 0), (2006.41, 1), (2006.45, 0),
        (2007.5, 0), (2007.54, 3), (2007.7, 7.7), (2007.74, 0), (2008.4, 0), (2008.48, 3),
        (2008.61, 19.3), (2008.64, 39.3), (2008.7, 19.3), (2008.77, 21), (2008.78, 0),
        (2011.3, 0), (2011.38, 5), (2011.47, 19.3), (2011.53, 46), (2011.6, 34.3),
        (2011.66, 22.7), (2011.74, 22.7), (2011.79, 4.3), (2011.88, 0), (2012.4, 0),
        (2012.45, 9.3), (2012.51, 24.3), (2012.57, 16), (2012.66, 17.7), (2012.73, 0),
        (2013.13, 0)]
NZ_B_BARS = [(1998.36, 6.7), (1999.4, 6.7)]
NZ_B_BANDS = [(1997.38, 1997.6, 39.3)]

YEAR_LABELS = [str(y) for y in range(1996, 2013)]
YEAR_LABEL_POS = [1996.35, 1997.31, 1998.33, 1999.40, 2000.44, 2001.33, 2002.48, 2003.42, 2004.25,
                  2005.40, 2006.42, 2007.51, 2008.40, 2009.42, 2010.44, 2011.40, 2012.55]
MID_YEAR_LABELS = ["2000", "2005", "2010"]
MID_YEAR_POS = [2000.46, 2005.46, 2010.44]

# ---- layout (figure pixels, y from top) ----
W, H = 920, 1600
PX_PER_YEAR = 53.0
X_AT_0 = 1996 - 11.7 / PX_PER_YEAR
X_END = 2013.08
TEAL = "#008080"
NAVY = "#000080"
GREEN = "#008000"
GREY = "#c0c0c0"
FONT = ["Liberation Sans", "DejaVu Sans"]

PANELS = [
    dict(a=MONGOLIA_A, b=MONGOLIA_B, base_a=51.7, base_b=106.7,
         grid=[(2005, 2013, 0, 108)], green=None, markers=[]),
    dict(a=RUSSIA_A, b=RUSSIA_B, a_bars=RUSSIA_A_BARS, b_bars=RUSSIA_B_BARS,
         base_a=177.3, base_b=232.3,
         grid=[(1996, 2004, 134, 240), (2005, 2013, 117, 240)],
         green=(122, 2005.62, X_END), markers=[(2005.0, 110, 222, NAVY)]),
    dict(a=CHINA_A, b=CHINA_B, a_bars=CHINA_A_BARS, b_bars=CHINA_B_BARS,
         a_bands=CHINA_A_BANDS, b_bands=CHINA_B_BANDS, base_a=298.3, base_b=353.3,
         grid=[(1996, 2013, 240, 357)], green=(243.3, X_AT_0, X_END),
         markers=[(2005.0, 245, 287, "black"), (2005.0, 303, 347, "black")]),
    dict(a=BANGLA_A, b=BANGLA_B, base_a=449.3, base_b=504.3,
         grid=[(2010, 2013, 387, 505)], green=(394.3, 2009.71, X_END), markers=[]),
    dict(a=INDIA_A, b=INDIA_B, b_bars=INDIA_B_BARS, base_a=573, base_b=628,
         grid=[(1997, 2004, 546, 632), (2006, 2013, 512, 630)],
         green=(517.3, 2005.05, X_END), markers=[(2005.04, 511, 634, "black")]),
    dict(a=PAKISTAN_A, b=PAKISTAN_B, base_a=694, base_b=749.3,
         grid=[(2008, 2013, 635, 752)], green=(639.3, 2007.92, X_END), markers=[]),
    dict(a=SEASIA_A, b=SEASIA_B, a_bars=SEASIA_A_BARS, base_a=834, base_b=889.3,
         grid=[(1996, 2004, 775, 893), (2006, 2013, 783, 893)],
         green=(779.3, X_AT_0, 2004.98),
         markers=[(2005.0, 774, 829, "black"), (2005.0, 839, 878, "black")]),
    dict(a=JAPAN_A, b=JAPAN_B, base_a=965.3, base_b=1020.3,
         grid=[(1996, 2013, 906, 1023)], green=(910.3, X_AT_0, X_END), markers=[]),
    dict(a=INDONESIA_A, b=INDONESIA_B, base_a=1084, base_b=1139,
         grid=[(2004, 2013, 1029, 1142)], green=(1029.3, 2003.91, X_END), markers=[]),
    dict(a=PHILIPPINES_A, b=PHILIPPINES_B, a_bands=PHILIPPINES_A_BANDS,
         b_bands=PHILIPPINES_B_BANDS, base_a=1198, base_b=1253.3,
         grid=[(2000, 2013, 1154, 1257)], green=None, markers=[]),
    dict(a=AUSTRALIA_A, b=AUSTRALIA_B, base_a=1324, base_b=1379.3,
         grid=[(1996, 2004, 1275, 1383), (2005, 2013, 1265, 1383)],
         green=(1269.3, 2005.02, X_END),
         markers=[(2005.02, 1268, 1325, "black"), (2005.02, 1328, 1373, "black")]),
    dict(a=NZ_A, b=NZ_B, b_bars=NZ_B_BARS, b_bands=NZ_B_BANDS, base_a=1441, base_b=1496,
         grid=[(1996, 2013, 1386, 1500)], green=(1386, X_AT_0, X_END),
         markers=[(2005.0, 1385, 1496, "black")]),
]

# (text, x px, y px, colour, white box)
LABELS = [
    ("Mongolia", 505, 72, NAVY, True),
    ("Russia", 27, 159, NAVY, False),
    ("1:4", 497, 127, NAVY, False),
    ("China, flu- isolates reported to flunet", 62, 255, "black", True),
    ("A", 25, 278, "black", False),
    ("B", 22, 329, "black", False),
    ("Bangla Desh", 655, 448, "black", True),
    ("India", 133, 541, "black", False),
    ("Pakistan", 579, 695, "black", True),
    ("SE-Asia\nMyanmar\nThailand\nCambodia\nVietnam", 37, 835, "black", True),
    ("1:4", 492, 783, "black", False),
    ("Japan", 18, 939, "black", False),
    ("Indonesia", 373, 1091, "black", True),
    ("Philippines", 203, 1181, "black", True),
    ("Australia", 36, 1304, "black", False),
    ("1:4", 498, 1284, "black", False),
    ("New Zealand", 12, 1407, NAVY, True),
    ("1:4", 513, 1408, "black", False),
]


def draw_panel(fig, p):
    ax = fig.add_axes([0, 0, 1, 1])
    ax.set_xlim(X_AT_0, X_AT_0 + W / PX_PER_YEAR)
    base = p["base_b"]
    ax.set_ylim(base - H, base)
    ax.axis("off")
    ax.patch.set_alpha(0)
    gap = p["base_b"] - p["base_a"]

    for y0, y1, top, bottom in p["grid"]:
        ax.vlines(range(y0, y1 + 1), base - bottom, base - top,
                  colors=GREY, lw=1.6, zorder=1)
    if p["green"]:
        gy, gx0, gx1 = p["green"]
        ax.hlines(base - gy, gx0, gx1, colors=GREEN, lw=0.9, zorder=2)

    xa, va = zip(*p["a"])
    ax.plot(xa, [v + gap for v in va], color=TEAL, lw=0.95, zorder=3)
    xb, vb = zip(*p["b"])
    ax.plot(xb, vb, color=NAVY, lw=0.95, zorder=3)

    for key, colour, off in (("a", TEAL, gap), ("b", NAVY, 0)):
        bars = p.get(key + "_bars", [])
        if bars:
            bx, bv = zip(*bars)
            ax.vlines(bx, off, [v + off for v in bv], colors=colour, lw=1.6, zorder=3)
        for x0, x1, v in p.get(key + "_bands", []):
            width = 3.2 if v > 2 else 1.4
            ax.hlines(v + off, x0, x1, colors=colour, lw=width, zorder=3)

    for mx, top, bottom, colour in p["markers"]:
        ax.vlines(mx, base - bottom, base - top, colors=colour, lw=2.3, zorder=4)


def main() -> None:
    fig = plt.figure(figsize=(W / 100, H / 100), dpi=100)
    fig.patch.set_facecolor("white")

    for p in PANELS:
        draw_panel(fig, p)

    for text, x, y, colour, box in LABELS:
        kw = dict(ha="left", va="center", fontsize=8, family=FONT, color=colour,
                  linespacing=1.46)
        if box:
            kw["bbox"] = dict(facecolor="white", edgecolor="none", pad=3.5)
        fig.text(x / W, 1 - y / H, text, **kw)

    to_fx = lambda yr: (yr - X_AT_0) * PX_PER_YEAR / W
    for lab, pos in zip(YEAR_LABELS, YEAR_LABEL_POS):
        fig.text(to_fx(pos), 1 - 374 / H, lab, ha="center", va="center",
                 fontsize=8, family=FONT)
    for lab, pos, y in zip(MID_YEAR_LABELS, MID_YEAR_POS, [901, 904, 904]):
        fig.text(to_fx(pos), 1 - y / H, lab, ha="center", va="center",
                 fontsize=8, family=FONT)

    fig.savefig("out.png", dpi=100, facecolor="white")


if __name__ == "__main__":
    main()
